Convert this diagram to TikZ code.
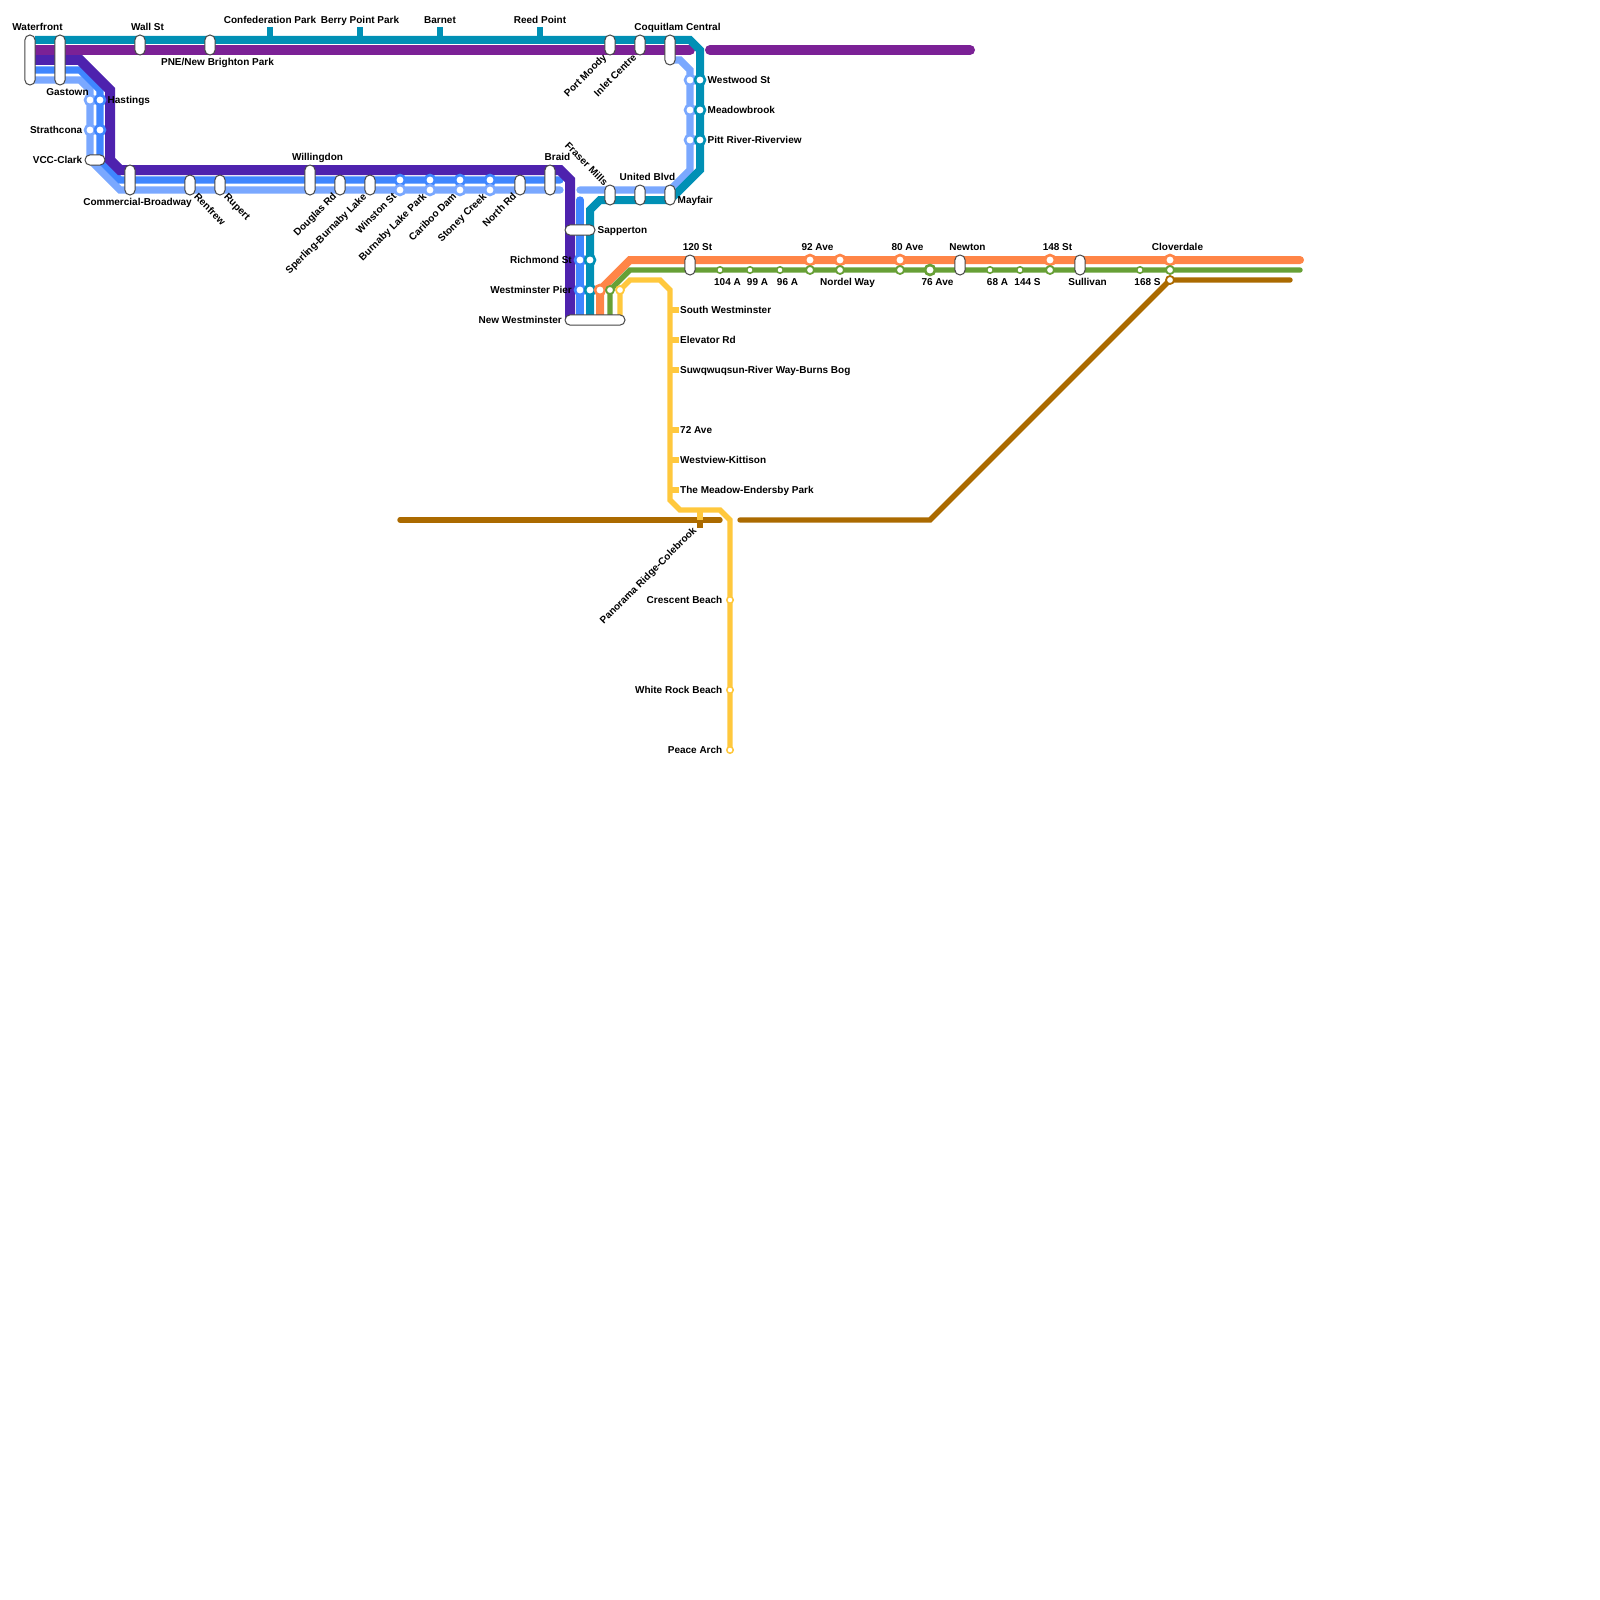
\documentclass[tikz,border=0pt]{standalone}
\usepackage{fontspec}
\setmainfont{Liberation Sans}
\definecolor{lineT}{RGB}{0,144,181}
\definecolor{lineP}{RGB}{123,33,150}
\definecolor{lineI}{RGB}{78,34,174}
\definecolor{lineB}{RGB}{63,134,255}
\definecolor{lineL}{RGB}{122,168,255}
\definecolor{lineO}{RGB}{255,133,71}
\definecolor{lineG}{RGB}{103,160,54}
\definecolor{lineY}{RGB}{255,200,61}
\definecolor{lineH}{RGB}{171,106,0}
\definecolor{pillD}{RGB}{70,70,70}
\tikzset{
  route/.style={line join=miter},
  wide/.style={route,line width=10pt},
  mid/.style={route,line width=8pt},
  slim/.style={route,line width=7.3pt},
  thin/.style={route,line width=5.4pt},
  lbl/.style={font=\fontsize{10}{10}\selectfont\bfseries,text=black,inner sep=0pt,text height=11pt,text depth=2pt},
  lblr/.style={lbl,text height=8pt},
  pill/.style={draw=pillD,fill=white,line width=1pt,inner sep=0pt,rounded corners=5.1pt,minimum width=#1},
  ring/.style={circle,fill=white,inner sep=0pt,outer sep=0pt,draw=#1,line width=2.6pt,minimum size=10pt},
  ringg/.style={circle,fill=white,inner sep=0pt,outer sep=0pt,draw=#1,line width=1.8pt,minimum size=8pt},
  dot/.style={circle,fill=white,inner sep=0pt,outer sep=0pt,draw=#1,line width=1.5pt,minimum size=6.5pt}
}
\begin{document}
\begin{tikzpicture}[x=1pt,y=-1pt]
\useasboundingbox (0,0) rectangle (1600,1600);
% lines
\draw[slim,lineL,line cap=round] (35,80)--(80,80)--(90,90)--(90,160)--(120,190)--(560,190);
\draw[slim,lineB,line cap=round] (35,70)--(80,70)--(100,90)--(100,160)--(120,180)--(560,180);
\draw[wide,lineI] (35,60)--(80,60)--(110,90)--(110,160)--(120,170)--(560,170)--(570,180)--(570,320);
\draw[wide,lineP,line cap=round] (35,50)--(690,50);
\draw[wide,lineP,line cap=round] (710,50)--(970,50);
\draw[slim,lineL,line cap=round] (580,190)--(670,190)--(690,170)--(690,70)--(680,60)--(670,60);
\draw[slim,lineB,line cap=round] (580,200)--(580,320);
\draw[mid,lineT] (35,40)--(690,40)--(700,50)--(700,170)--(670,200)--(600,200)--(590,210)--(590,320);
\draw[mid,lineO,line cap=round] (600,320)--(600,290)--(630,260)--(1300,260);
\draw[thin,lineG,line cap=round] (610,320)--(610,290)--(630,270)--(1300,270);
\draw[thin,lineY] (620,320)--(620,290)--(630,280)--(660,280)--(670,290)--(670,500)--(680,510)--(720,510)--(730,520)--(730,750);
\draw[thin,lineH,line cap=round] (400,520)--(720,520);
\draw[thin,lineH,line cap=round] (740,520)--(930,520)--(1170,280)--(1290,280);
% ticks
\draw[lineT,line width=6.5pt] (270,27)--(270,40);
\draw[lineT,line width=6.5pt] (360,27)--(360,40);
\draw[lineT,line width=6.5pt] (440,27)--(440,40);
\draw[lineT,line width=6.5pt] (540,27)--(540,40);
\draw[lineY,line width=6.5pt] (670,310)--(679,310);
\draw[lineY,line width=6.5pt] (670,340)--(679,340);
\draw[lineY,line width=6.5pt] (670,370)--(679,370);
\draw[lineY,line width=6.5pt] (670,430)--(679,430);
\draw[lineY,line width=6.5pt] (670,460)--(679,460);
\draw[lineY,line width=6.5pt] (670,490)--(679,490);
\draw[lineY,line width=6.5pt] (700,510)--(700,520);
\draw[lineH,line width=6.5pt] (700,520)--(700,528);
% pills
\node[pill=10.3pt,minimum height=50pt] (waterfront) at (30,60) {};
\node[pill=10.3pt,minimum height=50pt] (gastown) at (60,60) {};
\node[pill=10.3pt,minimum height=20pt] (wallst) at (140,45) {};
\node[pill=10.3pt,minimum height=20pt] (pne) at (210,45) {};
\node[pill=10.3pt,minimum height=20pt] (portmoody) at (610,45) {};
\node[pill=10.3pt,minimum height=20pt] (inletcentre) at (640,45) {};
\node[pill=10.3pt,minimum height=30pt] (coquitlam) at (670,50) {};
\node[pill=20pt,minimum height=10.3pt] (vccclark) at (95,160) {};
\node[pill=10.3pt,minimum height=30pt] (commercial) at (130,180) {};
\node[pill=10.3pt,minimum height=20pt] (renfrew) at (190,185) {};
\node[pill=10.3pt,minimum height=20pt] (rupert) at (220,185) {};
\node[pill=10.3pt,minimum height=30pt] (willingdon) at (310,180) {};
\node[pill=10.3pt,minimum height=20pt] (douglas) at (340,185) {};
\node[pill=10.3pt,minimum height=20pt] (sperling) at (370,185) {};
\node[pill=10.3pt,minimum height=20pt] (northrd) at (520,185) {};
\node[pill=10.3pt,minimum height=30pt] (braid) at (550,180) {};
\node[pill=10.3pt,minimum height=20pt] (fraser) at (610,195) {};
\node[pill=10.3pt,minimum height=20pt] (united) at (640,195) {};
\node[pill=10.3pt,minimum height=20pt] (mayfair) at (670,195) {};
\node[pill=30pt,minimum height=10.3pt] (sapperton) at (580,230) {};
\node[pill=60pt,minimum height=10.3pt] (newwest) at (595,320) {};
\node[pill=10.3pt,minimum height=20pt] (st120) at (690,265) {};
\node[pill=10.3pt,minimum height=20pt] (newton) at (960,265) {};
\node[pill=10.3pt,minimum height=20pt] (sullivan) at (1080,265) {};
% rings
\node[ring=lineL] (hastA) at (90,100) {};
\node[ring=lineB] (hastB) at (100,100) {};
\node[ring=lineL] (strathA) at (90,130) {};
\node[ring=lineB] (strathB) at (100,130) {};
\node[ring=lineB] (winstonA) at (400,180) {};
\node[ring=lineL] (winstonB) at (400,190) {};
\node[ring=lineB] (burnabyA) at (430,180) {};
\node[ring=lineL] (burnabyB) at (430,190) {};
\node[ring=lineB] (caribooA) at (460,180) {};
\node[ring=lineL] (caribooB) at (460,190) {};
\node[ring=lineB] (stoneyA) at (490,180) {};
\node[ring=lineL] (stoneyB) at (490,190) {};
\node[ring=lineL] (westwoodA) at (690,80) {};
\node[ring=lineT] (westwoodB) at (700,80) {};
\node[ring=lineL] (meadowA) at (690,110) {};
\node[ring=lineT] (meadowB) at (700,110) {};
\node[ring=lineL] (pittA) at (690,140) {};
\node[ring=lineT] (pittB) at (700,140) {};
\node[ring=lineB] (richA) at (580,260) {};
\node[ring=lineT] (richB) at (590,260) {};
\node[ring=lineB] (pierA) at (580,290) {};
\node[ring=lineT] (pierB) at (590,290) {};
\node[ring=lineO] (pierC) at (600,290) {};
\node[ringg=lineG] (pierD) at (610,290) {};
\node[ringg=lineY] (pierE) at (620,290) {};
\node[ring=lineO] (ave92A) at (810,260) {};
\node[ringg=lineG] (ave92B) at (810,270) {};
\node[ring=lineO] (nordelA) at (840,260) {};
\node[ringg=lineG] (nordelB) at (840,270) {};
\node[ring=lineO] (ave80A) at (900,260) {};
\node[ringg=lineG] (ave80B) at (900,270) {};
\node[ring=lineG] (ave76) at (930,270) {};
\node[ring=lineO] (st148A) at (1050,260) {};
\node[ringg=lineG] (st148B) at (1050,270) {};
\node[ring=lineO] (cloverA) at (1170,260) {};
\node[ringg=lineG] (cloverB) at (1170,270) {};
\node[ringg=lineH] (cloverC) at (1170,280) {};
\node[dot=lineG] (a104) at (720,270) {};
\node[dot=lineG] (a99) at (750,270) {};
\node[dot=lineG] (a96) at (780,270) {};
\node[dot=lineG] (a68) at (990,270) {};
\node[dot=lineG] (s144) at (1020,270) {};
\node[dot=lineG] (s168) at (1140,270) {};
\node[dot=lineY] (crescent) at (730,600) {};
\node[dot=lineY] (whiterock) at (730,690) {};
\node[dot=lineY] (peace) at (730,750) {};
% labels
\node[lbl] (tWaterfront) at (37.5,26) {Waterfront};
\node[lbl] (tWall) at (147.5,26) {Wall St};
\node[lbl] (tConfed) at (270,19) {Confederation Park};
\node[lbl] (tBerry) at (360,19) {Berry Point Park};
\node[lbl] (tBarnet) at (440,19) {Barnet};
\node[lbl] (tReed) at (540,19) {Reed Point};
\node[lbl] (tCoquitlam) at (677.5,26) {Coquitlam Central};
\node[lbl] (tPne) at (217.5,61) {PNE/New Brighton Park};
\node[lbl] (tGastown) at (67.5,91) {Gastown};
\node[lbl,anchor=west] (tHastings) at (107.5,99) {Hastings};
\node[lbl,anchor=east] (tStrath) at (82.5,129) {Strathcona};
\node[lbl,anchor=east] (tVcc) at (82.5,159) {VCC-Clark};
\node[lbl] (tCommercial) at (137.5,201) {Commercial-Broadway};
\node[lblr,anchor=west,rotate=-45] (tRenfrew) at (195.5,195.5) {Renfrew};
\node[lblr,anchor=west,rotate=-45] (tRupert) at (225.5,195.5) {Rupert};
\node[lbl] (tWillingdon) at (317.5,156) {Willingdon};
\node[lblr,anchor=east,rotate=45] (tDouglas) at (335,195) {Douglas Rd};
\node[lblr,anchor=east,rotate=45] (tSperling) at (365,195) {Sperling-Burnaby Lake};
\node[lblr,anchor=east,rotate=45] (tWinston) at (395,195) {Winston St};
\node[lblr,anchor=east,rotate=45] (tBurnaby) at (425,195) {Burnaby Lake Park};
\node[lblr,anchor=east,rotate=45] (tCariboo) at (455,195) {Cariboo Dam};
\node[lblr,anchor=east,rotate=45] (tStoney) at (485,195) {Stoney Creek};
\node[lblr,anchor=east,rotate=45] (tNorth) at (515,195) {North Rd};
\node[lbl] (tBraid) at (557.5,156) {Braid};
\node[lblr,anchor=east,rotate=-45] (tFraser) at (606,184) {Fraser Mills};
\node[lblr,anchor=east,rotate=45] (tPort) at (605,56) {Port Moody};
\node[lblr,anchor=east,rotate=45] (tInlet) at (635,56) {Inlet Centre};
\node[lbl] (tUnited) at (647.5,176) {United Blvd};
\node[lbl,anchor=west] (tMayfair) at (677.5,199) {Mayfair};
\node[lbl,anchor=west] (tWestwood) at (707.5,79) {Westwood St};
\node[lbl,anchor=west] (tMeadow) at (707.5,109) {Meadowbrook};
\node[lbl,anchor=west] (tPitt) at (707.5,139) {Pitt River-Riverview};
\node[lbl,anchor=west] (tSapperton) at (597.5,229) {Sapperton};
\node[lbl,anchor=east] (tRichmond) at (572,259) {Richmond St};
\node[lbl,anchor=east] (tPier) at (572,289) {Westminster Pier};
\node[lbl,anchor=east] (tNewWest) at (562,319) {New Westminster};
\node[lbl] (t120) at (697.5,246) {120 St};
\node[lbl] (t92) at (817.5,246) {92 Ave};
\node[lbl] (t80) at (907.5,246) {80 Ave};
\node[lbl] (tNewton) at (967.5,246) {Newton};
\node[lbl] (t148) at (1057.5,246) {148 St};
\node[lbl] (tClover) at (1177.5,246) {Cloverdale};
\node[lbl] (t104) at (727.5,281) {104 A};
\node[lbl] (t99) at (757.5,281) {99 A};
\node[lbl] (t96) at (787.5,281) {96 A};
\node[lbl] (tNordel) at (847.5,281) {Nordel Way};
\node[lbl] (t76) at (937.5,281) {76 Ave};
\node[lbl] (t68) at (997.5,281) {68 A};
\node[lbl] (t144) at (1027.5,281) {144 S};
\node[lbl] (tSullivan) at (1087.5,281) {Sullivan};
\node[lbl] (t168) at (1147.5,281) {168 S};
\node[lbl,anchor=west] (tSouth) at (680,309) {South Westminster};
\node[lbl,anchor=west] (tElevator) at (680,339) {Elevator Rd};
\node[lbl,anchor=west] (tSuw) at (680,369) {Suwqwuqsun-River Way-Burns Bog};
\node[lbl,anchor=west] (t72) at (680,429) {72 Ave};
\node[lbl,anchor=west] (tWestview) at (680,459) {Westview-Kittison};
\node[lbl,anchor=west] (tEndersby) at (680,489) {The Meadow-Endersby Park};
\node[lblr,anchor=east,rotate=45] (tPanorama) at (695,529) {Panorama Ridge-Colebrook};
\node[lbl,anchor=east] (tCrescent) at (722.5,599) {Crescent Beach};
\node[lbl,anchor=east] (tWhite) at (722.5,689) {White Rock Beach};
\node[lbl,anchor=east] (tPeace) at (722.5,749) {Peace Arch};
\end{tikzpicture}
\end{document}
